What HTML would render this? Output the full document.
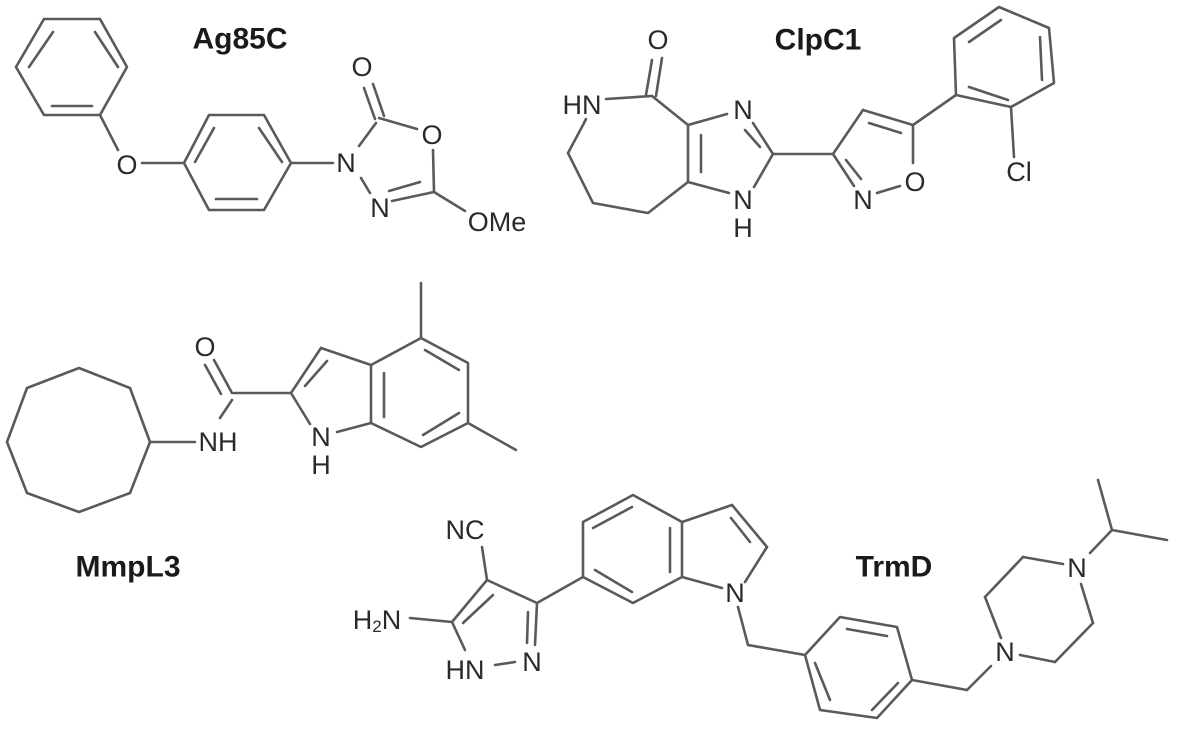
<!DOCTYPE html>
<html><head><meta charset="utf-8"><style>
html,body{margin:0;padding:0;background:#fff;}
svg{display:block;}
line,polyline,polygon{stroke:#5a5a5a;stroke-width:2.6;fill:none;stroke-linecap:round;stroke-linejoin:round;}
text{font-family:"Liberation Sans",sans-serif;fill:#2a2a2a;text-anchor:middle;dominant-baseline:central;font-size:27px;}
.b{font-weight:bold;fill:#1a1a1a;font-size:30px;}
</style></head><body>
<svg width="1177" height="729" viewBox="0 0 1177 729" xmlns="http://www.w3.org/2000/svg">
<!-- Ag85C -->
<polygon points="44,19 100,19 127,67 100,115 44,115 16,67"/>
<line x1="53" y1="32" x2="29" y2="67"/><line x1="95" y1="32" x2="118" y2="67"/><line x1="52" y1="106" x2="92" y2="106"/>
<line x1="100" y1="115" x2="118" y2="150"/><line x1="142" y1="163" x2="184" y2="163"/>
<polygon points="209,115 264,115 291,163 264,210 209,210 184,163"/>
<line x1="214" y1="128" x2="195" y2="162"/><line x1="259" y1="128" x2="282" y2="162"/><line x1="216" y1="199" x2="257" y2="199"/>
<line x1="291" y1="163" x2="333" y2="163"/>
<line x1="373" y1="84" x2="384" y2="116"/><line x1="364" y1="88" x2="375" y2="119"/>
<line x1="379" y1="118" x2="417" y2="129"/><line x1="359" y1="146" x2="376" y2="123"/>
<line x1="361" y1="178" x2="370" y2="193"/>
<line x1="433" y1="150" x2="434" y2="192"/>
<line x1="392" y1="201" x2="434" y2="192"/><line x1="389" y1="191" x2="420" y2="182"/>
<line x1="434" y1="192" x2="465" y2="211"/>
<text x="127" y="165">O</text><text x="346" y="163">N</text><text x="362" y="67">O</text>
<text x="432" y="135">O</text><text x="380" y="208">N</text><text x="497" y="222">OMe</text>
<text class="b" x="240" y="39">Ag85C</text>
<!-- ClpC1 -->
<line x1="662" y1="58" x2="656" y2="96"/><line x1="652" y1="60" x2="646" y2="95"/>
<line x1="606" y1="99" x2="652" y2="96"/><line x1="652" y1="96" x2="688" y2="125"/>
<line x1="688" y1="125" x2="688" y2="182"/><line x1="701" y1="135" x2="701" y2="172"/>
<line x1="688" y1="125" x2="727" y2="114"/><line x1="753" y1="123" x2="773" y2="154"/><line x1="745" y1="130" x2="760" y2="147"/>
<line x1="773" y1="154" x2="754" y2="187"/><line x1="729" y1="193" x2="688" y2="182"/>
<polyline points="688,182 648,213 593,203 568,153 583,125 586,119"/>
<line x1="773" y1="154" x2="833" y2="154"/>
<line x1="833" y1="154" x2="863" y2="110"/><line x1="863" y1="110" x2="913" y2="125"/><line x1="869" y1="123" x2="901" y2="133"/>
<line x1="913" y1="125" x2="913" y2="163"/><line x1="900" y1="186" x2="877" y2="193"/>
<line x1="854" y1="186" x2="833" y2="154"/><line x1="846" y1="160" x2="861" y2="179"/>
<line x1="913" y1="125" x2="956" y2="95"/>
<polygon points="956,95 954,38 999,7 1049,28 1054,83 1011,107"/>
<line x1="969" y1="42" x2="1001" y2="20"/><line x1="1040" y1="37" x2="1042" y2="80"/><line x1="969" y1="87" x2="1008" y2="100"/>
<line x1="1011" y1="107" x2="1014" y2="157"/>
<text x="658" y="40">O</text><text x="582" y="105">HN</text><text x="743" y="110">N</text>
<text x="743" y="200">N</text><text x="743" y="228">H</text>
<text x="915" y="182">O</text><text x="863" y="200">N</text><text x="1019" y="172">Cl</text>
<text class="b" x="818" y="40">ClpC1</text>
<!-- MmpL3 -->
<polygon points="79,368 130,388 150,442 130,493 79,512 27,493 7,442 27,388"/>
<line x1="150" y1="442" x2="195" y2="442"/>
<line x1="214" y1="360" x2="232" y2="393"/><line x1="205" y1="365" x2="221" y2="394"/>
<line x1="220" y1="418" x2="232" y2="400"/>
<line x1="234" y1="393" x2="291" y2="393"/>
<line x1="291" y1="393" x2="321" y2="348"/><line x1="305" y1="386" x2="327" y2="361"/>
<line x1="321" y1="348" x2="371" y2="365"/><line x1="371" y1="365" x2="371" y2="423"/><line x1="384" y1="373" x2="384" y2="417"/>
<line x1="310" y1="424" x2="291" y2="393"/><line x1="337" y1="432" x2="371" y2="423"/>
<polyline points="371,365 421,338 468,363 468,423 421,447 371,423"/>
<line x1="425" y1="350" x2="459" y2="370"/><line x1="423" y1="435" x2="459" y2="413"/>
<line x1="421" y1="338" x2="421" y2="283"/><line x1="468" y1="423" x2="516" y2="450"/>
<text x="205" y="347">O</text><text x="218" y="442">NH</text><text x="321" y="437">N</text><text x="321" y="465">H</text>
<text class="b" x="128" y="567">MmpL3</text>
<!-- TrmD -->
<line x1="482" y1="547" x2="487" y2="580"/>
<line x1="487" y1="580" x2="452" y2="622"/><line x1="493" y1="595" x2="463" y2="623"/>
<line x1="410" y1="618" x2="452" y2="622"/><line x1="452" y1="622" x2="465" y2="650"/>
<line x1="487" y1="580" x2="537" y2="603"/>
<line x1="537" y1="603" x2="535" y2="645"/><line x1="528" y1="612" x2="527" y2="643"/>
<line x1="495" y1="665" x2="515" y2="662"/>
<line x1="537" y1="603" x2="583" y2="577"/>
<polygon points="583,577 583,522 633,495 682,522 682,577 633,603"/>
<line x1="593" y1="528" x2="632" y2="507"/><line x1="670" y1="528" x2="670" y2="572"/><line x1="595" y1="570" x2="632" y2="592"/>
<line x1="682" y1="522" x2="732" y2="505"/><line x1="732" y1="505" x2="767" y2="547"/><line x1="731" y1="518" x2="750" y2="542"/>
<line x1="767" y1="547" x2="745" y2="582"/><line x1="722" y1="588" x2="682" y2="577"/>
<line x1="738" y1="607" x2="748" y2="645"/><line x1="748" y1="645" x2="805" y2="655"/>
<polygon points="805,655 840,617 897,627 912,680 877,718 820,710"/>
<line x1="847" y1="629" x2="887" y2="636"/><line x1="898" y1="683" x2="872" y2="710"/><line x1="815" y1="663" x2="830" y2="700"/>
<line x1="912" y1="680" x2="967" y2="690"/><line x1="967" y1="690" x2="991" y2="666"/>
<line x1="1001" y1="638" x2="985" y2="597"/><line x1="985" y1="597" x2="1023" y2="557"/><line x1="1023" y1="557" x2="1063" y2="564"/>
<line x1="1081" y1="584" x2="1093" y2="623"/><line x1="1093" y1="623" x2="1055" y2="662"/><line x1="1055" y1="662" x2="1020" y2="655"/>
<line x1="1090" y1="553" x2="1112" y2="530"/><line x1="1112" y1="530" x2="1098" y2="480"/><line x1="1112" y1="530" x2="1167" y2="540"/>
<text x="465" y="530">NC</text>
<text x="377" y="620">H<tspan font-size="17" dy="6">2</tspan><tspan dy="-6">N</tspan></text>
<text x="465" y="670">HN</text><text x="532" y="662">N</text><text x="735" y="593">N</text>
<text x="1005" y="652">N</text><text x="1077" y="568">N</text>
<text class="b" x="894" y="567">TrmD</text>
</svg>
</body></html>
